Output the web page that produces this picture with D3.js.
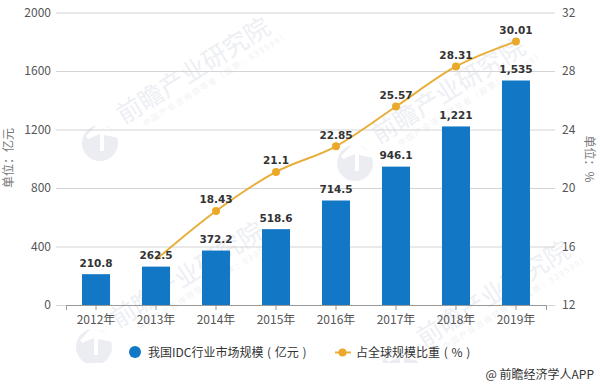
<!DOCTYPE html>
<html>
<head>
<meta charset="utf-8">
<script src="https://cdn.jsdelivr.net/npm/d3@7/dist/d3.min.js"></script>
<style>
    body { margin: 0; background: #fff; }
    svg { display: block; }
    text { font-family: "Noto Sans CJK SC", sans-serif; }
    .axis .domain { display: none; }
    .valueLabel { font-family: "DejaVu Sans", sans-serif; font-weight: bold; font-size: 10.5px; fill: #333; text-anchor: middle; }
    .legendText { font-size: 12px; fill: #333; word-spacing: 1px; }
</style>
</head>
<body>
<div id="chart"></div>
<script>
// chart values
const years = ["2012年", "2013年", "2014年", "2015年", "2016年", "2017年", "2018年", "2019年"];
const marketSize = [210.8, 262.5, 372.2, 518.6, 714.5, 946.1, 1221, 1535];
// 2012 has no line, 2013 has a line end but no marker or label in the picture
const globalShare = [null, 15.1, 18.43, 21.1, 22.85, 25.57, 28.31, 30.01];
const leftTicks = [0, 400, 800, 1200, 1600, 2000];
const rightTicks = [12, 16, 20, 24, 28, 32];
const legendNames = ["我国IDC行业市场规模 ( 亿元 )", "占全球规模比重 ( % )"];

const width = 600, height = 386;
const margin = {top: 12.5, right: 54, bottom: 81, left: 66};
const barColor = "#1277c4", lineColor = "#e8ae3a", gridColor = "#d4d4d4";

const svg = d3.select("#chart").append("svg")
    .attr("width", width)
    .attr("height", height);

// scales
const xScale = d3.scaleBand().domain(years)
    .range([margin.left, width - margin.right])
    .paddingInner(0.533)
    .paddingOuter(0.267);
const yLeft = d3.scaleLinear().domain([0, 2000]).range([height - margin.bottom, margin.top]);
const yRight = d3.scaleLinear().domain([12, 32]).range([height - margin.bottom, margin.top]);

// watermark, four copies behind the chart
svg.append("defs").append("clipPath").attr("id", "markClip")
    .append("rect").attr("width", width).attr("height", 363);

const marks = svg.append("g").attr("clip-path", "url(#markClip)");
[[100, 143], [355, 163], [94, 347], [400, 366]].forEach(function(p) {
    const g = marks.append("g").attr("transform", `translate(${p[0]},${p[1]})`);
    g.append("circle").attr("r", 18).attr("fill", "#ebedf3");
    g.append("path").attr("d", "M-2,-19L2,-19L19,-9L19,-5L4,-8L4,8L0,8L0,-9L-12,-4L-14,-7Z").attr("fill", "#fff");
    g.append("g").attr("transform", "rotate(-32)")
        .call(function(t) {
            t.append("text").attr("x", 30).attr("y", -3)
                .style("font-size", "25px")
                .attr("fill", "#edeff4").text("前瞻产业研究院");
            t.append("text").attr("x", 47).attr("y", 10)
                .style("font-size", "8px").style("letter-spacing", "1.6px")
                .attr("fill", "#f0f2f5").text("中国产业咨询领导者（股票：839599）");
        });
});

// gridlines
svg.append("g").selectAll("line")
    .data(leftTicks)
    .enter().append("line")
    .attr("x1", 56)
    .attr("x2", 555)
    .attr("y1", d => yLeft(d) + 0.5)
    .attr("y2", d => yLeft(d) + 0.5)
    .attr("stroke", gridColor);

// axes
const xAxis = d3.axisBottom(xScale).tickSize(5).tickPadding(5);
const xG = svg.append("g")
    .attr("class", "axis")
    .attr("transform", `translate(0,${yLeft(0)})`)
    .call(xAxis);
xG.select(".domain").style("display", "inline").attr("stroke", "#999");
xG.selectAll("line").attr("stroke", "#999");
xG.selectAll("text").attr("fill", "#555").style("font-size", "12px");

const leftG = svg.append("g")
    .attr("class", "axis")
    .attr("transform", "translate(56,0)")
    .call(d3.axisLeft(yLeft).tickValues(leftTicks).tickFormat(d3.format("d")).tickSize(0).tickPadding(5));
leftG.selectAll("text").attr("fill", "#555").style("font-size", "12px");

const rightG = svg.append("g")
    .attr("class", "axis")
    .attr("transform", "translate(555,0)")
    .call(d3.axisRight(yRight).tickValues(rightTicks).tickSize(0).tickPadding(7));
rightG.selectAll("text").attr("fill", "#555").style("font-size", "12px");

// axis titles
svg.append("text")
    .attr("transform", "translate(13,158) rotate(-90)")
    .attr("text-anchor", "middle")
    .attr("fill", "#777")
    .style("font-size", "12px")
    .text("单位：亿元");
svg.append("text")
    .attr("transform", "translate(585,159) rotate(90)")
    .attr("text-anchor", "middle")
    .attr("fill", "#777")
    .style("font-size", "12px")
    .text("单位：%");

// bars
svg.append("g").selectAll("rect")
    .data(marketSize)
    .enter().append("rect")
    .attr("x", (d, i) => xScale(years[i]))
    .attr("width", xScale.bandwidth())
    .attr("y", d => yLeft(d))
    .attr("height", d => yLeft(0) - yLeft(d))
    .attr("fill", barColor);

// share line
const cx = i => xScale(years[i]) + xScale.bandwidth() / 2;

const line = d3.line()
    .defined(d => d !== null)
    .x((d, i) => cx(i))
    .y(d => yRight(d))
    .curve(d3.curveMonotoneX);

svg.append("path")
    .datum(globalShare)
    .attr("d", line)
    .attr("fill", "none")
    .attr("stroke", lineColor)
    .attr("stroke-width", 2);

svg.append("g").selectAll("circle")
    .data(globalShare)
    .enter().filter((d, i) => i > 1).append("circle")
    .attr("cx", function(d) { return cx(globalShare.indexOf(d)); })
    .attr("cy", d => yRight(d))
    .attr("r", 4)
    .attr("fill", "#eba92b");

// value labels
svg.append("g").selectAll("text")
    .data(marketSize)
    .enter().append("text")
    .attr("class", "valueLabel")
    .attr("x", (d, i) => cx(i))
    .attr("y", d => yLeft(d) - 7.5)
    .text(d => d3.format(",")(d));

svg.append("g").selectAll("text")
    .data(globalShare)
    .enter().filter((d, i) => i > 1).append("text")
    .attr("class", "valueLabel")
    .attr("x", function(d) { return cx(globalShare.indexOf(d)); })
    .attr("y", d => yRight(d) - 7.5)
    .text(d => d);

// legend
svg.append("circle").attr("cx", 135).attr("cy", 352).attr("r", 6).attr("fill", barColor);
svg.append("text").attr("class", "legendText").attr("x", 148).attr("y", 356.5)
    .text(legendNames[0]);
svg.append("line").attr("x1", 335).attr("x2", 351).attr("y1", 352.5).attr("y2", 352.5)
    .attr("stroke", lineColor).attr("stroke-width", 2);
svg.append("circle").attr("cx", 342.5).attr("cy", 352.5).attr("r", 4).attr("fill", "#eba92b");
svg.append("text").attr("class", "legendText").attr("x", 356).attr("y", 356.5)
    .text(legendNames[1]);

// source
svg.append("text").attr("x", 594).attr("y", 378.5)
    .attr("text-anchor", "end")
    .attr("fill", "#333")
    .style("font-size", "12px")
    .text("@ 前瞻经济学人APP");
</script>
</body>
</html>
